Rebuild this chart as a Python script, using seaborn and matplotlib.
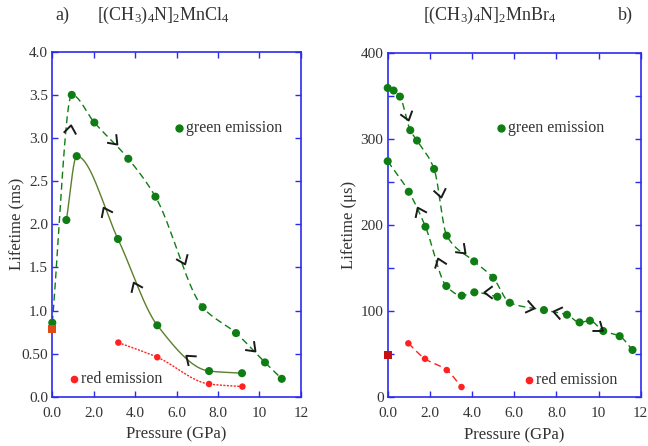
import numpy as np
import pandas as pd
import matplotlib
matplotlib.use("Agg")
import matplotlib.pyplot as plt
import seaborn as sns
from matplotlib.path import Path
from matplotlib.markers import MarkerStyle
from matplotlib.transforms import Affine2D

# ---------------- data ----------------
# panel a) [(CH3)4N]2MnCl4, lifetime in ms
a_up_p = [0.0, 0.94, 2.03, 3.67, 4.98, 7.26, 8.87, 10.27, 11.08]
a_up_t = [0.86, 3.50, 3.18, 2.76, 2.32, 1.04, 0.74, 0.40, 0.21]
a_dn_p = [0.68, 1.18, 3.17, 5.07, 7.57, 9.16]
a_dn_t = [2.05, 2.79, 1.83, 0.83, 0.30, 0.275]
a_red_p = [3.19, 5.07, 7.57, 9.18]
a_red_t = [0.63, 0.46, 0.15, 0.12]
a_sq_p, a_sq_t = [0.0], [0.79]

# panel b) [(CH3)4N]2MnBr4, lifetime in microseconds
b_up_p = [0.0, 0.28, 0.58, 1.07, 1.39, 2.2, 2.8, 4.1, 5.0, 5.79, 7.41, 8.5, 9.1, 9.59, 10.22, 11.0, 11.61]
b_up_t = [359, 356, 349, 310, 298, 265, 187.6, 157.8, 138.8, 109.8, 101.3, 95.9, 87, 89, 77, 71, 55]
b_dn_p = [0.0, 1.0, 1.79, 2.78, 3.51, 4.11, 5.2]
b_dn_t = [274, 238.6, 198, 129.2, 118, 121.9, 116.8]
b_red_p = [0.98, 1.77, 2.8, 3.5]
b_red_t = [62.7, 44.8, 31.7, 12]
b_sq_p, b_sq_t = [0.0], [49]

# direction markers (x, y, angle in degrees on screen)
a_arrows = [(0.85, 3.10, 82), (2.98, 2.97, -47), (6.30, 1.59, -67), (9.66, 0.57, -45),
            (2.55, 2.16, 116), (4.00, 1.29, 114), (6.62, 0.45, 140)]
b_arrows = [(0.90, 327, -73), (2.48, 237.5, -79), (3.51, 171, -44), (6.76, 104.8, -12),
            (8.02, 98.7, 168), (10.0, 81, -37), (1.47, 216.6, 115), (2.44, 157.5, 110),
            (4.78, 121.9, 180)]

# ---------------- style ----------------
sns.set_theme(style="white")
plt.rcParams['font.family'] = ['Liberation Serif', 'DejaVu Serif']
plt.rcParams['mathtext.fontset'] = 'custom'
plt.rcParams['mathtext.rm'] = 'Liberation Serif'
plt.rcParams['mathtext.it'] = 'Liberation Serif:italic'

GREEN = '#0f7d14'
OLIVE = '#5b7f2a'
RED = '#ff2020'
BLUE = '#2b2bf0'
TXT = '#333333'


def smooth(xs, ys, n=40):
    """Monotone (PCHIP) curve through the given points, for drawing only."""
    x = np.asarray(xs, float)
    y = np.asarray(ys, float)
    h = np.diff(x)
    d = np.diff(y) / h
    m = np.zeros_like(x)
    for k in range(1, len(x) - 1):
        if d[k - 1] * d[k] > 0:
            w1 = 2 * h[k] + h[k - 1]
            w2 = h[k] + 2 * h[k - 1]
            m[k] = (w1 + w2) / (w1 / d[k - 1] + w2 / d[k])
    m[0] = d[0]
    m[-1] = d[-1]
    ox, oy = [], []
    for k in range(len(x) - 1):
        t = np.linspace(0, 1, n, endpoint=False)
        h00 = 2 * t ** 3 - 3 * t ** 2 + 1
        h10 = t ** 3 - 2 * t ** 2 + t
        h01 = -2 * t ** 3 + 3 * t ** 2
        h11 = t ** 3 - t ** 2
        ox.append(x[k] + t * h[k])
        oy.append(h00 * y[k] + h10 * h[k] * m[k] + h01 * y[k + 1] + h11 * h[k] * m[k + 1])
    ox.append([x[-1]])
    oy.append([y[-1]])
    return np.concatenate(ox), np.concatenate(oy)


def chevron(angle):
    path = Path([(-0.5, 0.75), (0.5, 0.0), (-0.5, -0.75)],
                [Path.MOVETO, Path.LINETO, Path.LINETO])
    return MarkerStyle(path, fillstyle='none', transform=Affine2D().rotate_deg(angle))


def curve(ax, xs, ys, color, ls, lw):
    sx, sy = smooth(xs, ys)
    df = pd.DataFrame({'x': sx, 'y': sy})
    sns.lineplot(data=df, x='x', y='y', sort=False, estimator=None, ax=ax,
                 color=color, lw=lw, linestyle=ls)


def dots(ax, xs, ys, color, s, marker='o'):
    sns.scatterplot(x=xs, y=ys, ax=ax, color=color, s=s, marker=marker,
                    edgecolor='none', zorder=5, clip_on=False)


def style_axes(ax, ylim, yticks, ylabels, yminor, ylab, labx):
    ax.set_xlim(0, 12)
    ax.set_ylim(*ylim)
    ax.set_xticks([0, 2, 4, 6, 8, 10, 12])
    ax.set_xticklabels(['0.0', '2.0', '4.0', '6.0', '8.0', '10', '12'])
    ax.set_yticks(yticks)
    ax.set_yticklabels(ylabels)
    ax.set_yticks(yminor, minor=True)
    for sp in ax.spines.values():
        sp.set_color(BLUE)
        sp.set_linewidth(1.2)
        sp.set_visible(True)
    ax.tick_params(which='both', direction='in', color=BLUE, top=True, right=True,
                   bottom=True, left=True, length=4, width=1.0,
                   labelsize=11, labelcolor=TXT)
    ax.tick_params(axis='x', pad=7)
    ax.tick_params(axis='y', pad=3)
    ax.set_xlabel('Pressure (GPa)', fontsize=12, color=TXT, labelpad=5)
    ax.set_ylabel(ylab, fontsize=12, color=TXT)
    ax.yaxis.set_label_coords(labx, 0.5)
    ax.grid(False)


fig = plt.figure(figsize=(6.48, 4.46), dpi=100)
axA = fig.add_axes([0.0807, 0.110, 0.3835, 0.774])
axB = fig.add_axes([0.5983, 0.109, 0.3905, 0.773])

# ---------- panel a ----------
curve(axA, a_up_p, a_up_t, GREEN, (0, (5, 3)), 1.0)
curve(axA, a_dn_p, a_dn_t, OLIVE, '-', 1.0)
curve(axA, a_red_p, a_red_t, RED, (0, (1.5, 1)), 1.0)
dots(axA, a_up_p, a_up_t, GREEN, 34)
dots(axA, a_dn_p, a_dn_t, GREEN, 34)
dots(axA, a_red_p, a_red_t, RED, 22)
dots(axA, a_sq_p, a_sq_t, '#e04a14', 34, marker='s')
for x, y, ang in a_arrows:
    axA.plot([x], [y], marker=chevron(ang), ms=9, mew=1.4, color='k',
             linestyle='none', zorder=6, clip_on=False)
axA.plot([6.1], [3.12], 'o', color=GREEN, ms=5)
axA.text(6.45, 3.12, 'green emission', fontsize=11.5, color=TXT, va='center')
axA.plot([1.06], [0.21], 'o', color=RED, ms=4.5)
axA.text(1.4, 0.21, 'red emission', fontsize=11.5, color=TXT, va='center')
style_axes(axA, (0, 4.0), np.arange(0, 4.01, 0.5),
           ['0.0', '0.50', '1.0', '1.5', '2.0', '2.5', '3.0', '3.5', '4.0'],
           [], 'Lifetime (ms)', -0.11)

# ---------- panel b ----------
curve(axB, b_up_p, b_up_t, GREEN, (0, (5, 3)), 1.0)
curve(axB, b_dn_p, b_dn_t, GREEN, (0, (5, 3)), 1.0)
curve(axB, b_red_p, b_red_t, RED, (0, (5, 3)), 1.0)
dots(axB, b_up_p, b_up_t, GREEN, 34)
dots(axB, b_dn_p, b_dn_t, GREEN, 34)
dots(axB, b_red_p, b_red_t, RED, 22)
dots(axB, b_sq_p, b_sq_t, '#c81010', 34, marker='s')
for x, y, ang in b_arrows:
    axB.plot([x], [y], marker=chevron(ang), ms=9, mew=1.4, color='k',
             linestyle='none', zorder=6, clip_on=False)
axB.plot([5.37], [313], 'o', color=GREEN, ms=5)
axB.text(5.72, 313, 'green emission', fontsize=11.5, color=TXT, va='center')
axB.plot([6.7], [20], 'o', color=RED, ms=4.5)
axB.text(7.05, 20, 'red emission', fontsize=11.5, color=TXT, va='center')
style_axes(axB, (0, 400), [0, 100, 200, 300, 400],
           ['0', '100', '200', '300', '400'], [50, 150, 250, 350],
           'Lifetime (\u03bcs)', -0.12)

# ---------- titles ----------
fig.text(0.097, 0.966, 'a)', fontsize=13, color=TXT, ha='center', va='center')
fig.text(0.252, 0.966, r'[(CH$_\mathrm{3}$)$_\mathrm{4}$N]$_\mathrm{2}$MnCl$_\mathrm{4}$',
         fontsize=13, color=TXT, ha='center', va='center')
fig.text(0.756, 0.966, r'[(CH$_\mathrm{3}$)$_\mathrm{4}$N]$_\mathrm{2}$MnBr$_\mathrm{4}$',
         fontsize=13, color=TXT, ha='center', va='center')
fig.text(0.965, 0.966, 'b)', fontsize=13, color=TXT, ha='center', va='center')

fig.savefig('out.png', dpi=100)
